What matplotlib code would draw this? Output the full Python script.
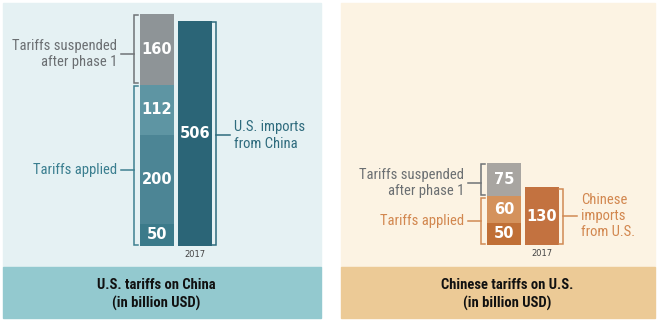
import matplotlib
matplotlib.use("Agg")
import matplotlib.pyplot as plt
from matplotlib import font_manager as fm
from matplotlib.patches import Rectangle

# ---------------- data ----------------
us_segments = [50, 200, 112, 160]          # bottom -> top
us_seg_colors = ["#3b7a8a", "#4c8595", "#5e95a3", "#8e9497"]
us_imports = 506
cn_segments = [50, 60, 75]
cn_seg_colors = ["#c06f36", "#d4925c", "#a8a5a1"]
cn_imports = 130
year_label = "2017"
left_title = "U.S. tariffs on China\n(in billion USD)"
right_title = "Chinese tariffs on U.S.\n(in billion USD)"
lbl_suspended = "Tariffs suspended\nafter phase 1"
lbl_applied = "Tariffs applied"
lbl_us_imports = "U.S. imports\nfrom China"
lbl_cn_imports = "Chinese\nimports\nfrom U.S."

name_set = {f.name for f in fm.fontManager.ttflist}
narrow = "Liberation Sans"
for cand in ["Roboto Condensed", "Liberation Sans Narrow", "Archivo Narrow"]:
    if cand in name_set:
        narrow = cand
        break

W, H = 660, 321
fig = plt.figure(figsize=(6.6, 3.21), dpi=100)
fig.patch.set_facecolor("white")

def fig_rect(x0, y0, x1, y1, color):
    fig.patches.append(Rectangle((x0 / W, 1 - y1 / H), (x1 - x0) / W, (y1 - y0) / H,
                                 transform=fig.transFigure, color=color, zorder=-10))

fig_rect(3, 3, 321, 267, "#e5f1f3")
fig_rect(3, 267, 321, 318, "#93c9cf")
fig_rect(341, 3, 655, 267, "#fcf3e3")
fig_rect(341, 267, 655, 318, "#ecca96")

PX_PER_UNIT = 0.445
UNIT_X = 38.0

def make_axes(px_left, px_right, center0, bottom_px):
    top_px = 3
    ymax = (bottom_px - top_px) / PX_PER_UNIT
    ax = fig.add_axes([px_left / W, 1 - bottom_px / H, (px_right - px_left) / W,
                       (bottom_px - top_px) / H])
    ax.set_xlim((px_left - center0) / UNIT_X, (px_right - center0) / UNIT_X)
    ax.set_ylim(0, ymax)
    ax.axis("off")
    ax.patch.set_alpha(0)
    ax.set_zorder(1)
    return ax

BW = 34 / UNIT_X
PX = 1 / UNIT_X
PY = 1 / PX_PER_UNIT

def bracket(ax, x, y0, y1, side, color, tick_len, drop=0, gap=1.5):
    s = 4 * PX
    y0 += gap * PY
    y1 -= gap * PY
    ax.plot([x + side * s, x, x, x + side * s], [y0, y0, y1, y1], color=color,
            lw=1.1, solid_joinstyle="miter", clip_on=False)
    ym = (y0 + y1) / 2 - drop * PY
    ax.plot([x, x - side * tick_len * PX], [ym, ym], color=color, lw=1.1, clip_on=False)
    return x - side * (tick_len + 4) * PX, ym

def draw_panel(ax, segments, seg_colors, imports, imp_color, cols, labels, fs_label, drops):
    bottoms = [sum(segments[:i]) for i in range(len(segments))]
    ax.bar([0] * len(segments), segments, bottom=bottoms, width=BW, color=seg_colors,
           linewidth=0)
    for b, v in zip(bottoms, segments):
        ax.text(0, b + v / 2, str(v), ha="center", va="center", color="white",
                fontsize=10.5, fontweight="bold", family="DejaVu Sans")
    ax.bar([1], [imports], width=BW, color=imp_color, linewidth=0)
    ax.text(1, imports / 2, str(imports), ha="center", va="center", color="white",
            fontsize=10.5, fontweight="bold", family="DejaVu Sans")
    ax.text(1, -4 * PY, year_label, ha="center", va="top", color="#444444",
            fontsize=6, family="DejaVu Sans")
    gray_c, app_c, imp_c, app_txt, imp_txt = cols
    bx = -BW / 2 - 6 * PX
    applied_total = sum(segments[:-1])
    tx, ty = bracket(ax, bx, applied_total, sum(segments), +1, gray_c, 13, drops[0])
    ax.text(tx, ty, lbl_suspended, ha="right", va="center", color="#6b6f72",
            fontsize=fs_label, family=narrow, linespacing=1.2)
    tx, ty = bracket(ax, bx, 0, applied_total, +1, app_c, 13, drops[1])
    ax.text(tx, ty, lbl_applied, ha="right", va="center", color=app_txt,
            fontsize=fs_label, family=narrow)
    rx = 1 + BW / 2 + 4 * PX
    tx, ty = bracket(ax, rx, 0, imports, -1, imp_c, 14, drops[2])
    ax.text(tx, ty, labels, ha="left", va="center", color=imp_txt,
            fontsize=fs_label, family=narrow, linespacing=1.2)

axL = make_axes(3, 321, 157, 246)
draw_panel(axL, us_segments, us_seg_colors, us_imports, "#2b6577",
           ("#6f7376", "#3e8090", "#2e6b7d", "#3a7e8f", "#2e6b7d"), lbl_us_imports, 10.5,
           (5, 5, 2))

axR = make_axes(341, 655, 504, 245)
draw_panel(axR, cn_segments, cn_seg_colors, cn_imports, "#c37240",
           ("#6f7376", "#d08a54", "#d08a54", "#d2874f", "#d2874f"), lbl_cn_imports, 10.5,
           (4, 0, 0))

fig.text(156 / W, 1 - 294.5 / H, left_title, ha="center", va="center", fontsize=10.5,
         fontweight="bold", family=narrow, color="#111111", linespacing=1.3)
fig.text(507 / W, 1 - 294.5 / H, right_title, ha="center", va="center", fontsize=10.5,
         fontweight="bold", family=narrow, color="#111111", linespacing=1.3)

fig.savefig("out.png", dpi=100)
